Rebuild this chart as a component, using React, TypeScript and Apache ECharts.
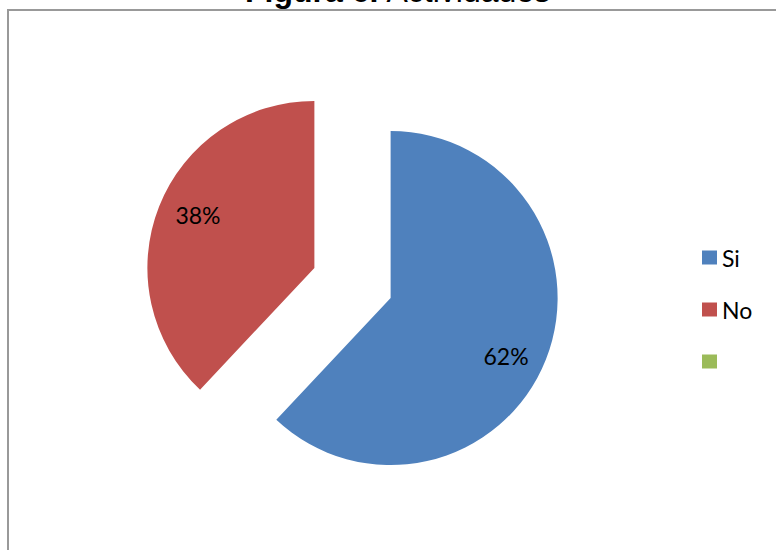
import React, { useEffect, useRef } from "react";
import * as echarts from "echarts";

const categories = ["Si", "No", " "];
const values = [62, 38, 0];
const colors = ["#4F81BD", "#C0504D", "#9BBB59"];
const titleBold = "Figura 6.";
const titleRest = "Actividades";

export default function App() {
  const ref = useRef<HTMLDivElement>(null);
  useEffect(() => {
    if (!ref.current) return;
    const chart = echarts.init(ref.current, undefined, { renderer: "svg" });
    const center = [352.5, 283];
    const labelShifts = [[-5, 10], [4, -5], [0, 0]];
    const baseData = categories.map((name, i) => ({
      name,
      value: values[i],
      selected: values[i] > 0,
      itemStyle: { color: colors[i] },
      label: { show: false },
    }));
    const labelData = categories.map((name, i) => ({
      name,
      value: values[i],
      selected: values[i] > 0,
      label: { show: values[i] > 0 },
    }));
    chart.setOption({
      animation: false,
      backgroundColor: "#ffffff",
      legend: {
        orient: "vertical",
        left: 697,
        top: 241,
        icon: "rect",
        itemWidth: 15,
        itemHeight: 14,
        itemGap: 29,
        selectedMode: false,
        data: categories,
        textStyle: { fontFamily: "Lato", fontSize: 23, color: "#000" },
      },
      graphic: [
        {
          type: "rect",
          shape: { x: 8, y: 10, width: 900, height: 900 },
          style: { fill: "none", stroke: "#999", lineWidth: 2 },
          silent: true,
        },
        {
          type: "text",
          x: 398,
          y: -9,
          style: {
            text: `{b|${titleBold}} ${titleRest}`,
            fontFamily: "Liberation Sans",
            fontSize: 32,
            fill: "#000",
            align: "center",
            verticalAlign: "middle",
            rich: { b: { fontWeight: "bold", fontFamily: "Liberation Sans", fontSize: 32, fill: "#000" } },
          },
          silent: true,
        },
      ],
      series: [
        {
          type: "pie",
          center,
          radius: [0, 167],
          startAngle: 90,
          clockwise: true,
          selectedMode: "multiple",
          selectedOffset: 41,
          itemStyle: { borderWidth: 0 },
          select: { itemStyle: { borderWidth: 0 } },
          emphasis: { disabled: true },
          label: { show: false },
          labelLine: { show: false },
          silent: true,
          data: baseData,
        },
        {
          type: "pie",
          center,
          radius: [86, 167],
          startAngle: 90,
          clockwise: true,
          selectedMode: "multiple",
          selectedOffset: 41,
          itemStyle: { color: "rgba(0,0,0,0)", borderWidth: 0 },
          select: { itemStyle: { color: "rgba(0,0,0,0)", borderWidth: 0 } },
          emphasis: { disabled: true },
          silent: true,
          label: {
            position: "inside",
            formatter: "{d}%",
            fontFamily: "Lato",
            fontSize: 23,
            color: "#000",
          },
          labelLayout: (p: any) => ({
            dx: labelShifts[p.dataIndex][0],
            dy: labelShifts[p.dataIndex][1],
          }),
          labelLine: { show: false },
          data: labelData,
        },
      ],
    });
    return () => chart.dispose();
  }, []);
  return (
    <div
      ref={ref}
      style={{ position: "fixed", left: 0, top: 0, width: 776, height: 550 }}
    />
  );
}
